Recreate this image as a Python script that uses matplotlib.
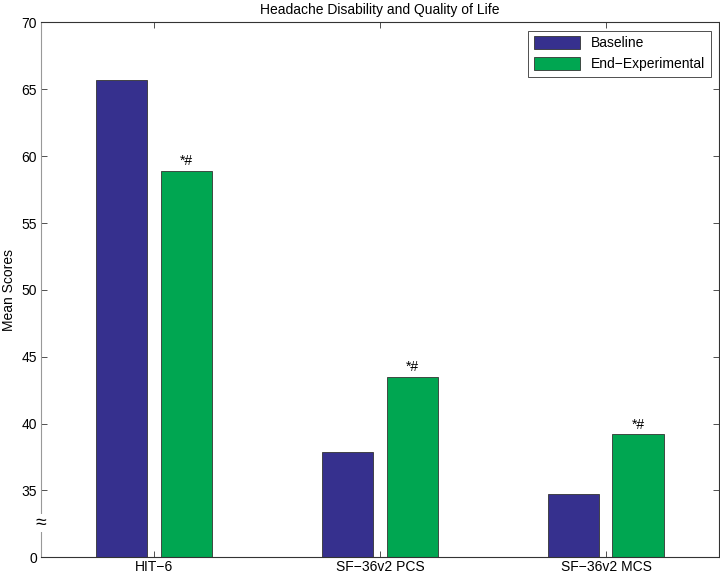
import matplotlib.pyplot as plt
import matplotlib.transforms as mtransforms
import numpy as np

plt.rcParams['font.family'] = ['Liberation Sans', 'DejaVu Sans']

# data
categories = ['HIT\u22126', 'SF\u221236v2 PCS', 'SF\u221236v2 MCS']
baseline = [65.7, 37.9, 34.7]
end_experimental = [58.9, 43.5, 39.2]
marks = ['*#', '*#', '*#']
ytick_values = [30, 35, 40, 45, 50, 55, 60, 65, 70]
ytick_labels = ['0', '35', '40', '45', '50', '55', '60', '65', '70']

x = np.arange(1, len(categories) + 1)
width = 0.228
offset = 0.143

fig = plt.figure(figsize=(7.2, 5.76), dpi=100)
ax = fig.add_axes([0.057, 0.0325, 0.9415, 0.9285])

ax.bar(x - offset, baseline, width, bottom=0, color='#36308e',
       edgecolor='#333333', linewidth=0.6, label='Baseline')
ax.bar(x + offset, end_experimental, width, color='#00a651',
       edgecolor='#333333', linewidth=0.6, label='End\u2212Experimental')

# significance marks over the end-experimental bars
for xi, yi, m in zip(x + offset, end_experimental, marks):
    ax.text(xi, yi + 0.2, m, ha='center', va='bottom', fontsize=10)

ax.set_xlim(0.5, 3.5)
ax.set_ylim(30, 70)
ax.set_xticks(x)
ax.set_xticklabels(categories, fontsize=10)
ax.set_yticks(ytick_values)
ax.set_yticklabels(ytick_labels, fontsize=10)
ax.tick_params(direction='in', top=True, right=True, length=4, width=0.6,
               colors='#333333', labelcolor='black')
ax.tick_params(axis='x', pad=2)
ax.tick_params(axis='y', pad=3)
ax.set_ylabel('Mean Scores', fontsize=10, labelpad=4)
ax.set_title('Headache Disability and Quality of Life', fontsize=10, pad=6)

for s in ['top', 'right', 'bottom']:
    ax.spines[s].set_color('#333333')
    ax.spines[s].set_linewidth(0.8)
ax.spines['left'].set_color('#999999')
ax.spines['left'].set_linewidth(0.8)

# axis break symbol on the y axis
trans = mtransforms.blended_transform_factory(ax.transAxes, ax.transData)
ax.text(0, 32.55, '\u2248', transform=trans, ha='center', va='center',
        fontsize=14, clip_on=False,
        bbox=dict(facecolor='white', edgecolor='none', pad=0.3))

leg = ax.legend(loc='upper right', fontsize=10, fancybox=False,
                edgecolor='#333333', handlelength=3.3, handleheight=1.0,
                borderaxespad=0.6, framealpha=1)
leg.get_frame().set_linewidth(0.6)

fig.savefig('out.png', dpi=100)
